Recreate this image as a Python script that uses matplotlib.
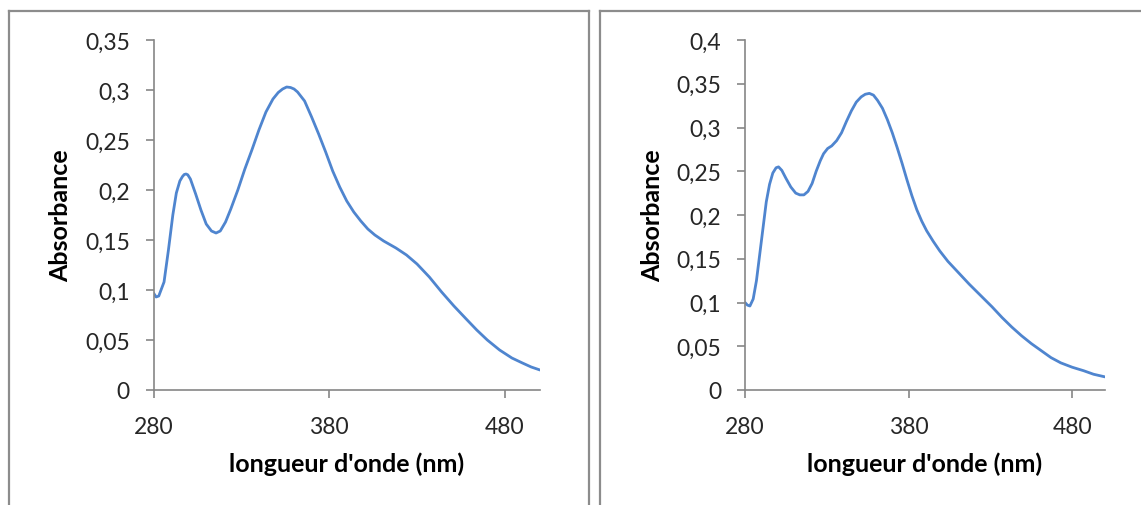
import numpy as np
import matplotlib
matplotlib.use("Agg")
import matplotlib.pyplot as plt
from matplotlib.lines import Line2D

# spectrum 1 (left panel)
wl_a = [280, 281.5, 283, 286, 288.5, 291, 293, 295, 296.5, 297.5, 298.5, 299.5, 301, 304,
        307, 310, 313, 315.6, 318, 321, 324, 328, 332, 336, 340, 344, 348, 351, 353.5,
        355.8, 358, 360, 362, 366, 370, 374, 378, 382, 386, 390, 394, 398, 402, 406, 411,
        418, 424, 430, 437, 444, 451, 458, 464, 470, 477, 484, 490, 495, 500]
abs_a = [0.097, 0.093, 0.094, 0.108, 0.140, 0.175, 0.197, 0.209, 0.2135, 0.2155, 0.216,
         0.2152, 0.211, 0.196, 0.180, 0.166, 0.159, 0.157, 0.159, 0.168, 0.181, 0.200,
         0.221, 0.240, 0.260, 0.278, 0.291, 0.2975, 0.301, 0.303, 0.3025, 0.301, 0.298,
         0.289, 0.273, 0.256, 0.238, 0.219, 0.203, 0.189, 0.178, 0.169, 0.161, 0.155,
         0.149, 0.142, 0.135, 0.126, 0.113, 0.098, 0.084, 0.071, 0.060, 0.050, 0.040,
         0.032, 0.027, 0.023, 0.020]

# spectrum 2 (right panel)
wl_b = [280, 281.5, 283, 285, 287, 289, 291, 293, 295, 297, 299, 300.5, 302.5, 305, 308,
        311, 313.5, 316, 318.5, 321, 323.5, 326, 328, 330.5, 333, 336, 339, 342, 345,
        348, 351, 353.5, 356, 358.5, 361, 364, 367, 370, 373, 376, 379, 382, 385, 388,
        391, 395, 399, 404, 410, 417, 424, 431, 437, 443, 449, 455, 461, 467, 473, 480,
        487, 493, 500]
abs_b = [0.100, 0.097, 0.096, 0.104, 0.125, 0.155, 0.185, 0.215, 0.235, 0.248, 0.254,
         0.255, 0.251, 0.242, 0.232, 0.225, 0.223, 0.223, 0.227, 0.236, 0.250, 0.262,
         0.270, 0.276, 0.279, 0.285, 0.294, 0.307, 0.319, 0.329, 0.335, 0.338, 0.339,
         0.337, 0.331, 0.322, 0.309, 0.294, 0.277, 0.259, 0.240, 0.222, 0.206, 0.193,
         0.182, 0.170, 0.159, 0.147, 0.135, 0.121, 0.108, 0.095, 0.083, 0.072, 0.062,
         0.053, 0.045, 0.037, 0.031, 0.026, 0.022, 0.018, 0.015]

x_ticks = [280, 380, 480]
y_ticks_a = [0, 0.05, 0.1, 0.15, 0.2, 0.25, 0.3, 0.35]
y_labels_a = ["0", "0,05", "0,1", "0,15", "0,2", "0,25", "0,3", "0,35"]
y_ticks_b = [0, 0.05, 0.1, 0.15, 0.2, 0.25, 0.3, 0.35, 0.4]
y_labels_b = ["0", "0,05", "0,1", "0,15", "0,2", "0,25", "0,3", "0,35", "0,4"]

plt.rcParams['font.family'] = ['Lato', 'DejaVu Sans']
line_colour = "#4f85cf"
axis_grey = "#868686"
W, H = 1141, 506

fig = plt.figure(figsize=(W / 100, H / 100), dpi=100)

def px_axes(x0, x1, y0, y1):
    return fig.add_axes([x0 / W, 1 - y1 / H, (x1 - x0) / W, (y1 - y0) / H])

def style(ax, yticks, ylabels, ymax):
    ax.set_xlim(280, 500)
    ax.set_ylim(0, ymax)
    ax.set_xticks(x_ticks)
    ax.set_xticklabels([str(t) for t in x_ticks])
    ax.set_yticks(yticks)
    ax.set_yticklabels(ylabels)
    for s in ["top", "right"]:
        ax.spines[s].set_visible(False)
    for s in ["left", "bottom"]:
        ax.spines[s].set_color(axis_grey)
        ax.spines[s].set_linewidth(1.2)
    ax.tick_params(direction="out", length=6, width=1.2, color=axis_grey,
                   labelsize=16.5, labelcolor="#262626")
    ax.tick_params(axis="y", pad=11)
    ax.tick_params(axis="x", pad=13)
    ax.set_xlabel("longueur d'onde (nm)", fontsize=18, fontweight="bold", labelpad=10)
    ax.set_ylabel("Absorbance", fontsize=18, fontweight="bold", labelpad=9)

ax1 = px_axes(153.5, 540, 41, 391)
ax1.plot(wl_a, abs_a, color=line_colour, lw=2.0, solid_capstyle="round",
         solid_joinstyle="round")
style(ax1, y_ticks_a, y_labels_a, 0.35)

ax2 = px_axes(745, 1105, 41, 391)
ax2.plot(wl_b, abs_b, color=line_colour, lw=2.0, solid_capstyle="round",
         solid_joinstyle="round")
style(ax2, y_ticks_b, y_labels_b, 0.4)

# chart area borders (Excel style)
border = dict(color="#8c8c8c", lw=1.6, transform=fig.transFigure)
def seg(x0, y0, x1, y1):
    fig.add_artist(Line2D([x0 / W, x1 / W], [1 - y0 / H, 1 - y1 / H], **border))

seg(8.5, 11.5, 588.5, 11.5)
seg(8.5, 11.5, 8.5, 506)
seg(588.5, 11.5, 588.5, 506)
seg(600, 11.5, 1141, 11.5)
seg(600, 11.5, 600, 506)

fig.savefig("out.png", dpi=100)
